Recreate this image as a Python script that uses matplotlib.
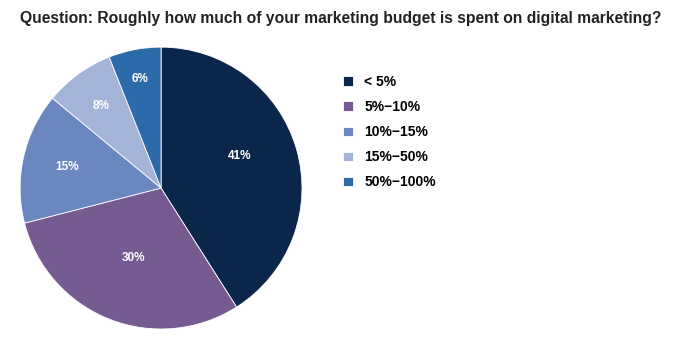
import numpy as np
import matplotlib.pyplot as plt

# Données
categories = ['< 5%', '5%\u221210%', '10%\u221215%', '15%\u221250%', '50%\u2212100%']
values = [41, 30, 15, 8, 6]
colors = ['#0b264b', '#765b93', '#6a88bf', '#a4b4d9', '#2d6aa9']

plt.rcParams['font.family'] = ['Liberation Sans', 'DejaVu Sans']

fig = plt.figure(figsize=(6.75, 3.38), dpi=100)
ax = fig.add_axes([0.0296, 0.0266, 0.418, 0.834])

wedges, texts, autotexts = ax.pie(values, colors=colors, startangle=90, counterclock=False,
                                  autopct='%d%%', pctdistance=0.62,
                                  wedgeprops=dict(linewidth=0.6, edgecolor='white'),
                                  textprops=dict(color='white', fontsize=8.5, fontweight='bold'))

# position des étiquettes (rayon, décalage d'angle en degrés), ajustée par part
label_r = [0.6, 0.53, 0.68, 0.72, 0.79]
label_da = [6, 0, 0, 0, 0]
for w, t, r, da in zip(wedges, autotexts, label_r, label_da):
    ang = np.deg2rad((w.theta1 + w.theta2) / 2 + da)
    t.set_position((r * np.cos(ang), r * np.sin(ang)))
ax.set_xlim(-1, 1)
ax.set_ylim(-1, 1)
ax.set_aspect('equal')

fig.text(0.03, 0.945, 'Question: Roughly how much of your marketing budget is spent on digital marketing?',
         fontsize=11.25, fontweight='bold', color='#222222', va='center')

fig.legend(wedges, categories, loc='upper left', bbox_to_anchor=(0.49, 0.815),
           frameon=False, prop=dict(weight='bold', size=10),
           handlelength=0.7, handleheight=0.7, handletextpad=0.8, labelspacing=0.8)

plt.savefig('out.png', dpi=100)
